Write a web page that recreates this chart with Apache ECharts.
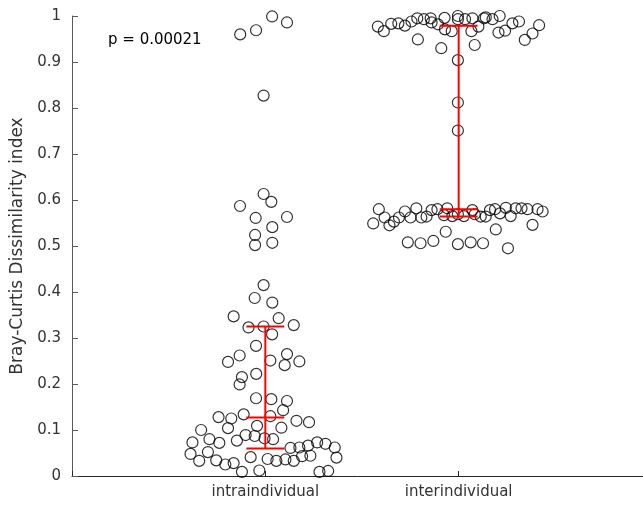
<!DOCTYPE html>
<html>
<head>
<meta charset="utf-8">
<script src="https://cdn.jsdelivr.net/npm/echarts@6/dist/echarts.min.js"></script>
<style>html,body{margin:0;padding:0;background:#fff}#c{width:643px;height:506px}</style>
</head>
<body>
<div id="c"></div>
<script>
const categories = ['intraindividual', 'interindividual'];
const yTickLabels = ['0','0.1','0.2','0.3','0.4','0.5','0.6','0.7','0.8','0.9','1'];
const yAxisTitle = 'Bray-Curtis Dissimilarity index';
const pText = 'p = 0.00021';

// intraindividual values and beeswarm jitter (category units)
const intraValues = [0.960,0.969,0.999,0.986,0.827,0.613,0.596,0.587,0.561,0.563,0.541,0.524,0.502,0.507,0.415,0.387,0.377,0.347,0.343,0.328,0.323,0.325,0.308,0.283,0.262,0.265,0.248,0.251,0.241,0.249,0.222,0.215,0.199,0.169,0.167,0.163,0.143,0.128,0.125,0.134,0.130,0.120,0.117,0.104,0.109,0.105,0.100,0.080,0.072,0.077,0.089,0.087,0.082,0.080,0.073,0.048,0.033,0.052,0.034,0.025,0.028,0.009,0.041,0.012,0.037,0.033,0.036,0.033,0.061,0.062,0.043,0.066,0.044,0.073,0.070,0.062,0.040,0.009,0.011];
const intraJitter = [-0.130,-0.048,0.035,0.112,-0.009,-0.009,0.031,-0.131,-0.050,0.112,0.036,-0.053,-0.053,0.036,-0.009,-0.055,0.036,-0.164,0.069,0.147,-0.087,-0.009,0.035,-0.048,-0.133,0.112,-0.193,0.026,0.100,0.176,-0.047,-0.121,-0.133,-0.048,0.031,0.112,0.092,-0.242,-0.176,-0.112,0.026,0.161,0.226,-0.193,-0.043,0.083,-0.332,-0.289,-0.238,-0.147,-0.102,-0.055,-0.004,0.040,-0.377,-0.387,-0.342,-0.297,-0.254,-0.207,-0.164,-0.121,-0.076,-0.031,0.012,0.057,0.104,0.147,0.130,0.176,0.190,0.221,0.233,0.268,0.311,0.359,0.368,0.280,0.325];

// interindividual values and jitter
const interValues = [0.977,0.967,0.983,0.984,0.979,0.988,0.995,0.993,0.995,0.986,0.982,0.996,0.971,0.967,1.000,0.993,0.993,0.995,0.967,0.977,0.995,0.997,0.993,1.000,0.964,0.968,0.984,0.988,0.962,0.948,0.980,0.949,0.930,0.937,0.904,0.812,0.751,0.580,0.562,0.549,0.545,0.553,0.562,0.575,0.562,0.582,0.562,0.564,0.578,0.580,0.582,0.567,0.565,0.569,0.565,0.578,0.569,0.564,0.564,0.578,0.580,0.571,0.583,0.565,0.582,0.582,0.580,0.580,0.575,0.546,0.531,0.536,0.508,0.506,0.511,0.504,0.508,0.506,0.495];
const interJitter = [-0.418,-0.387,-0.349,-0.312,-0.278,-0.244,-0.214,-0.180,-0.145,-0.140,-0.107,-0.073,-0.071,-0.036,-0.004,-0.004,0.033,0.071,0.066,0.102,0.131,0.140,0.175,0.212,0.206,0.240,0.278,0.312,0.382,0.342,0.416,-0.211,-0.090,0.083,-0.004,-0.004,-0.004,-0.413,-0.383,-0.442,-0.358,-0.335,-0.309,-0.278,-0.249,-0.219,-0.193,-0.166,-0.140,-0.110,-0.059,-0.076,-0.033,-0.004,0.027,0.071,0.083,0.114,0.140,0.162,0.188,0.214,0.244,0.269,0.295,0.325,0.356,0.408,0.434,0.382,-0.067,0.192,-0.263,-0.197,-0.131,-0.004,0.062,0.126,0.255];

// error bars: [low, median, high] per category
const errLow = [0.060, 0.564];
const errMid = [0.127, 0.580];
const errHigh = [0.325, 0.979];

const FONT = 'DejaVu Sans';
const intraData = intraValues.map((v, i) => [1 + intraJitter[i], v]);
const interData = interValues.map((v, i) => [2 + interJitter[i], v]);
const errData = categories.map((c, i) => [i + 1, errLow[i], errMid[i], errHigh[i]]);

const chart = echarts.init(document.getElementById('c'), null, {renderer: 'canvas'});
const ptStyle = {color: 'rgba(0,0,0,0)', borderColor: '#000', borderWidth: 1.2};
chart.setOption({
  animation: false,
  backgroundColor: '#fff',
  grid: {left: 72, right: -9, top: 16, bottom: 30, containLabel: false, outerBoundsMode: 'none'},
  xAxis: {
    type: 'value', min: 0, max: 3, interval: 1,
    axisLine: {lineStyle: {color: '#262626', width: 1}},
    axisTick: {inside: true, length: 5, lineStyle: {color: '#262626'}},
    splitLine: {show: false},
    axisLabel: {
      margin: 9, color: '#333', fontFamily: FONT, fontSize: 15,
      formatter: v => (v >= 1 && v <= categories.length) ? categories[v - 1] : ''
    }
  },
  yAxis: {
    type: 'value', min: 0, max: 1, interval: 0.1,
    name: yAxisTitle, nameLocation: 'middle', nameRotate: 90, nameGap: 43,
    nameTextStyle: {color: '#333', fontFamily: FONT, fontSize: 17},
    axisLine: {show: true, lineStyle: {color: '#5a5a5a', width: 1}},
    axisTick: {show: true, inside: true, length: 6, lineStyle: {color: '#5a5a5a'}},
    splitLine: {show: false},
    axisLabel: {
      margin: 11, color: '#333', fontFamily: FONT, fontSize: 15,
      formatter: v => yTickLabels[Math.round(v * 10)]
    }
  },
  graphic: [{
    type: 'text', left: 108, top: 33,
    style: {text: pText, fill: '#000', font: '15px "DejaVu Sans"'}
  }],
  series: [
    {type: 'scatter', data: intraData, symbol: 'circle', symbolSize: 11, itemStyle: ptStyle, z: 2},
    {type: 'scatter', data: interData, symbol: 'circle', symbolSize: 11, itemStyle: ptStyle, z: 2},
    {
      type: 'custom', data: errData, z: 5,
      renderItem: (params, api) => {
        const x = api.value(0);
        const capHalf = 0.098;
        const lo = api.coord([x, api.value(1)]);
        const hi = api.coord([x, api.value(3)]);
        const style = {stroke: '#ff0000', lineWidth: 2};
        const cap = (y) => {
          const a = api.coord([x - capHalf, y]);
          const b = api.coord([x + capHalf, y]);
          return {type: 'line', shape: {x1: a[0], y1: a[1], x2: b[0], y2: b[1]}, style};
        };
        return {type: 'group', children: [
          {type: 'line', shape: {x1: lo[0], y1: lo[1], x2: hi[0], y2: hi[1]}, style},
          cap(api.value(1)), cap(api.value(2)), cap(api.value(3))
        ]};
      }
    }
  ]
});
</script>
</body>
</html>
